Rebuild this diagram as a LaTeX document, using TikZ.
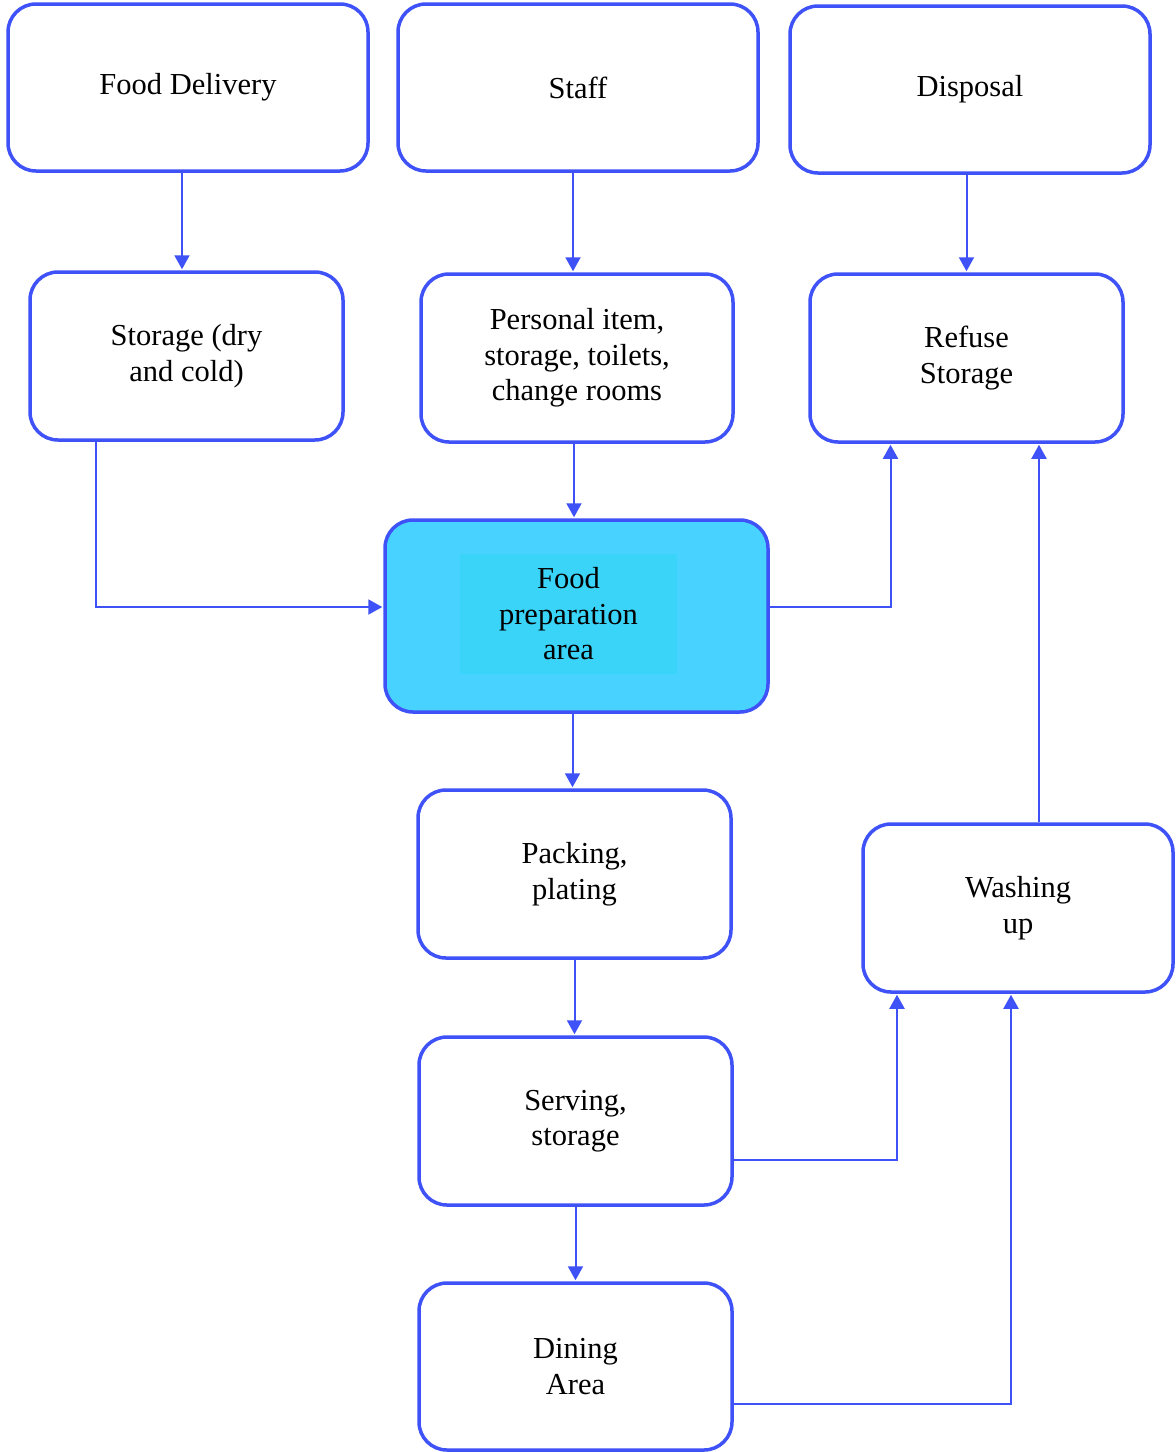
\documentclass[tikz,border=0pt]{standalone}
\usepackage{fontspec}
\setmainfont{Liberation Serif}
\usepackage{tikz}
\usetikzlibrary{arrows.meta}
\definecolor{flowblue}{RGB}{62,82,247}
\definecolor{prepcyan}{RGB}{72,210,255}
\definecolor{prepinner}{RGB}{58,212,248}
\tikzset{>={Triangle[length=14pt,width=15pt]}}
\tikzset{
    box/.style={draw=flowblue, line width=3.5pt, rounded corners=28pt, align=center,
        font=\fontsize{30.5}{35.5}\selectfont},
    flow/.style={->, flowblue, line width=2pt, shorten >=1pt}
}

\begin{document}
\begin{tikzpicture}[x=1pt, y=-1pt]
    \useasboundingbox (0,0) rectangle (1176,1452);
    \node[box, minimum width=360pt, minimum height=167pt] (fd) at (188,87.5) {Food Delivery};
    \node[box, minimum width=360pt, minimum height=167pt] (staff) at (578,87.5) {Staff};
    \node[box, minimum width=360pt, minimum height=167pt] (disp) at (970,89.5) {Disposal};
    \node[box, minimum width=313pt, minimum height=168pt] (stor) at (186.5,356) {Storage (dry\\and cold)};
    \node[box, minimum width=312pt, minimum height=168pt] (pers) at (577,358) {Personal item,\\storage, toilets,\\change rooms};
    \node[box, minimum width=313pt, minimum height=168pt] (ref) at (966.5,358) {Refuse\\Storage};
    \node[box, fill=prepcyan, minimum width=383pt, minimum height=192pt] (prep) at (576.5,616) {};
    \node[fill=prepinner, align=center, font=\fontsize{30.5}{35.5}\selectfont,
        minimum width=217pt, minimum height=120pt] (preptext) at (568.5,614) {Food\\preparation\\area};
    \node[box, minimum width=313pt, minimum height=168pt] (pack) at (574.5,874) {Packing,\\plating};
    \node[box, minimum width=310pt, minimum height=168pt] (wash) at (1018,908) {Washing\\up};
    \node[box, minimum width=313pt, minimum height=168pt] (serv) at (575.5,1121) {Serving,\\storage};
    \node[box, minimum width=313pt, minimum height=167pt] (din) at (575.5,1366.5) {Dining\\Area};

    \draw[flow] ([xshift=-6pt]fd.south) -- ([xshift=-6pt]fd.south |- stor.north);
    \draw[flow] ([xshift=-4pt]pers.north |- staff.south) -- ([xshift=-4pt]pers.north);
    \draw[flow] (ref.north |- disp.south) -- (ref.north);
    \draw[flow] ([xshift=68pt]stor.south west) |- ([yshift=9pt]prep.west);
    \draw[flow] ([xshift=-3pt]pers.south) -- ([xshift=-3pt]pers.south |- prep.north);
    \draw[flow] ([yshift=9pt]prep.east) -| ([xshift=-76pt]ref.south);
    \draw[flow] ([xshift=21pt]wash.north) -- ([xshift=21pt]wash.north |- ref.south);
    \draw[flow] ([xshift=-4pt]prep.south) -- ([xshift=-4pt]prep.south |- pack.north);
    \draw[flow] (pack.south) -- (pack.south |- serv.north);
    \draw[flow] ([yshift=-39pt]serv.east) -| ([xshift=-121pt]wash.south);
    \draw[flow] (serv.south) -- (serv.south |- din.north);
    \draw[flow] ([yshift=-37.5pt]din.east) -| ([xshift=-7pt]wash.south);
\end{tikzpicture}
\end{document}
